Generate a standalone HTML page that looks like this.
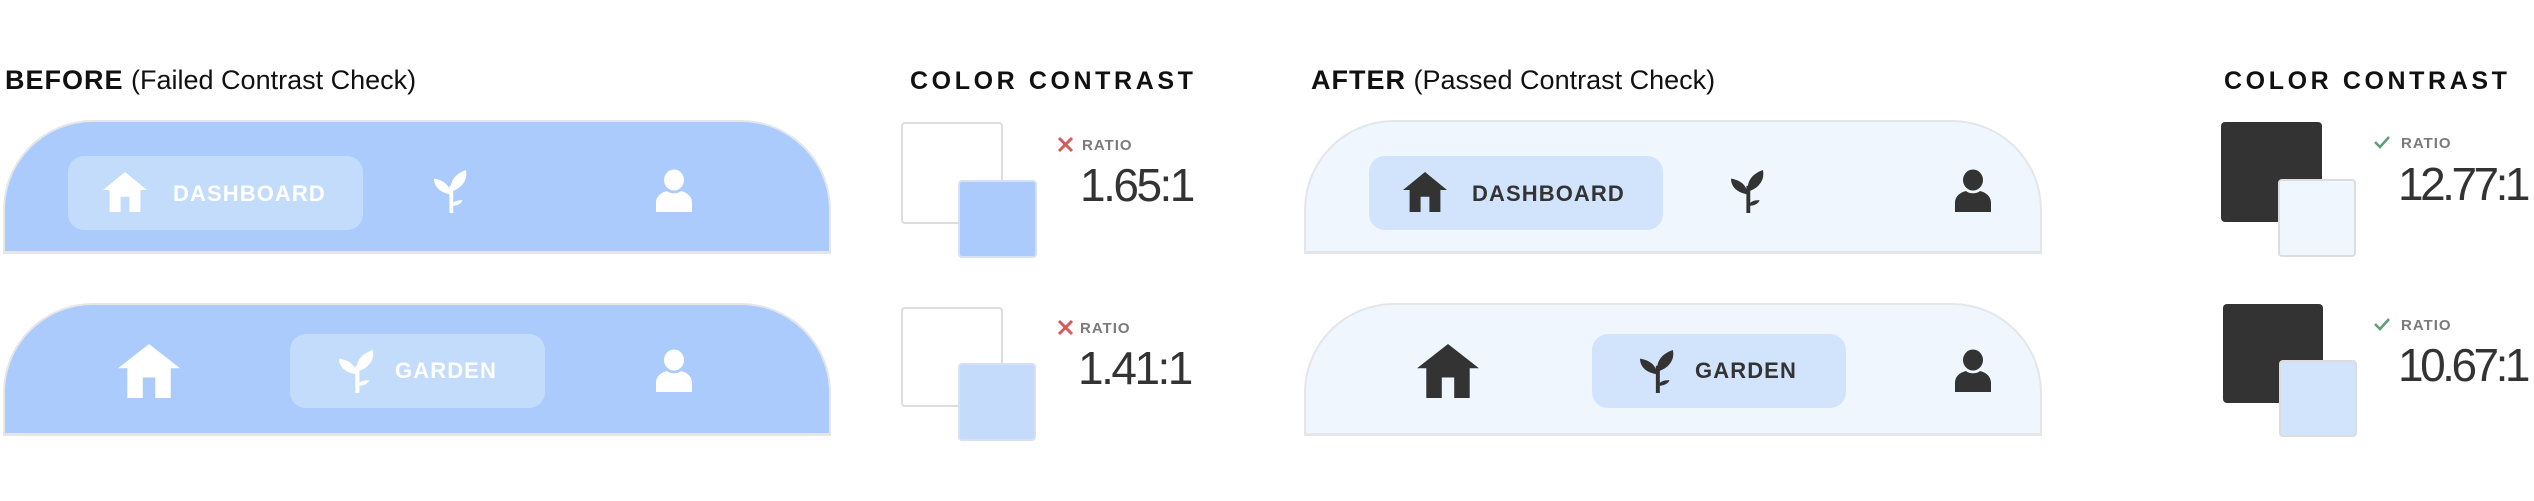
<!DOCTYPE html>
<html><head><meta charset="utf-8">
<style>
html,body{margin:0;padding:0;background:#fff;}
body{width:2534px;height:501px;position:relative;overflow:hidden;font-family:"Liberation Sans",sans-serif;}
.a{position:absolute;}
.title{font-size:27px;line-height:27px;color:#111;white-space:nowrap;}
.title b{font-weight:900;letter-spacing:1px;}
.cc{font-size:25px;font-weight:bold;letter-spacing:3.6px;line-height:25px;color:#111;white-space:nowrap;}
.bar{border:2px solid #e4e6ea;border-bottom-width:3px;border-radius:90px 90px 0 0;box-sizing:border-box;}
.pill{border-radius:16px;}
.nav{font-size:22px;font-weight:bold;letter-spacing:1.1px;line-height:22px;white-space:nowrap;}
.sq{border-radius:4px;box-sizing:border-box;border:2px solid #ddd;}
.ratio{font-size:15px;font-weight:bold;color:#7a7a7a;letter-spacing:1px;line-height:15px;}
.num{font-size:46px;font-weight:300;letter-spacing:-2.5px;line-height:46px;color:#333;white-space:nowrap;}
.num.r{letter-spacing:-3.5px;}
svg{position:absolute;overflow:visible;}
</style></head><body>

<!-- BEFORE -->
<div class="a title" style="left:5px;top:67px;"><b>BEFORE</b> (Failed Contrast Check)</div>

<div class="a bar" style="left:3px;top:120px;width:828px;height:134px;background:#aacbfb;"></div>
<div class="a pill" style="left:68px;top:156px;width:295px;height:74px;background:#c4dcfc;"></div>
<svg style="left:103px;top:172px" width="44" height="40" viewBox="0 0 100 100" preserveAspectRatio="none"><polygon fill="#fff" points="50,0 100,45 85,45 85,100 60,100 60,62 40,62 40,100 15,100 15,45 0,45"/></svg>
<div class="a nav" style="left:173px;top:183px;color:#fff;">DASHBOARD</div>
<svg style="left:434px;top:170px" width="33" height="43" viewBox="0 0 30 60" preserveAspectRatio="none"><g fill="#fff"><rect x="14" y="22" width="3.5" height="38"/><path d="M15.5 34 C6 32 0 24 0 12 C8 14 14 20 15.5 34Z"/><path d="M15.5 30 C14 18 18 6 29 0 C31 14 25 26 15.5 30Z"/><path d="M16 50 C17 44 21 42 26 42 C25 47 21 50 16 50Z"/></g></svg>
<svg style="left:656px;top:170px" width="36" height="42" viewBox="0 0 36 42"><g fill="#fff"><ellipse cx="18" cy="10" rx="10" ry="10.5"/><path d="M0 42 L0 33 C0 25 7 22 11 21 C14 24 22 24 25 21 C29 22 36 25 36 33 L36 42Z"/></g></svg>

<div class="a bar" style="left:3px;top:303px;width:828px;height:133px;background:#aacbfb;"></div>
<svg style="left:118px;top:344px" width="62" height="54" viewBox="0 0 100 100" preserveAspectRatio="none"><polygon fill="#fff" points="50,0 100,45 85,45 85,100 60,100 60,62 40,62 40,100 15,100 15,45 0,45"/></svg>
<div class="a pill" style="left:290px;top:334px;width:255px;height:74px;background:#c4dcfc;"></div>
<svg style="left:339px;top:350px" width="35" height="43" viewBox="0 0 30 60" preserveAspectRatio="none"><g fill="#fff"><rect x="14" y="22" width="3.5" height="38"/><path d="M15.5 34 C6 32 0 24 0 12 C8 14 14 20 15.5 34Z"/><path d="M15.5 30 C14 18 18 6 29 0 C31 14 25 26 15.5 30Z"/><path d="M16 50 C17 44 21 42 26 42 C25 47 21 50 16 50Z"/></g></svg>
<div class="a nav" style="left:395px;top:360px;color:#fff;">GARDEN</div>
<svg style="left:656px;top:350px" width="36" height="42" viewBox="0 0 36 42"><g fill="#fff"><ellipse cx="18" cy="10" rx="10" ry="10.5"/><path d="M0 42 L0 33 C0 25 7 22 11 21 C14 24 22 24 25 21 C29 22 36 25 36 33 L36 42Z"/></g></svg>

<!-- BEFORE contrast -->
<div class="a cc" style="left:910px;top:69px;">COLOR CONTRAST</div>
<div class="a sq" style="left:901px;top:122px;width:102px;height:102px;background:#fff;"></div>
<div class="a sq" style="left:958px;top:180px;width:79px;height:78px;background:#aacbfb;border-color:#d6e2f2;"></div>
<svg style="left:1058px;top:137px" width="15" height="15" viewBox="0 0 15 15"><path d="M1 1L14 14M14 1L1 14" stroke="#d65a5a" stroke-width="3"/></svg>
<div class="a ratio" style="left:1082px;top:138px;">RATIO</div>
<div class="a num" style="left:1080px;top:162px;">1.65:1</div>

<div class="a sq" style="left:901px;top:307px;width:102px;height:100px;background:#fff;"></div>
<div class="a sq" style="left:958px;top:363px;width:78px;height:78px;background:#c4dbfb;border-color:#d6e2f2;"></div>
<svg style="left:1058px;top:320px" width="15" height="15" viewBox="0 0 15 15"><path d="M1 1L14 14M14 1L1 14" stroke="#d65a5a" stroke-width="3"/></svg>
<div class="a ratio" style="left:1080px;top:321px;">RATIO</div>
<div class="a num" style="left:1078px;top:345px;">1.41:1</div>

<!-- AFTER -->
<div class="a title" style="left:1311px;top:67px;"><b>AFTER</b> (Passed Contrast Check)</div>

<div class="a bar" style="left:1304px;top:120px;width:738px;height:134px;background:#eff6fe;"></div>
<div class="a pill" style="left:1369px;top:156px;width:294px;height:74px;background:#d2e4fc;"></div>
<svg style="left:1403px;top:172px" width="44" height="40" viewBox="0 0 100 100" preserveAspectRatio="none"><polygon fill="#333" points="50,0 100,45 85,45 85,100 60,100 60,62 40,62 40,100 15,100 15,45 0,45"/></svg>
<div class="a nav" style="left:1472px;top:183px;color:#333;">DASHBOARD</div>
<svg style="left:1731px;top:170px" width="33" height="43" viewBox="0 0 30 60" preserveAspectRatio="none"><g fill="#333"><rect x="14" y="22" width="3.5" height="38"/><path d="M15.5 34 C6 32 0 24 0 12 C8 14 14 20 15.5 34Z"/><path d="M15.5 30 C14 18 18 6 29 0 C31 14 25 26 15.5 30Z"/><path d="M16 50 C17 44 21 42 26 42 C25 47 21 50 16 50Z"/></g></svg>
<svg style="left:1955px;top:170px" width="36" height="42" viewBox="0 0 36 42"><g fill="#333"><ellipse cx="18" cy="10" rx="10" ry="10.5"/><path d="M0 42 L0 33 C0 25 7 22 11 21 C14 24 22 24 25 21 C29 22 36 25 36 33 L36 42Z"/></g></svg>

<div class="a bar" style="left:1304px;top:303px;width:738px;height:133px;background:#eff6fe;"></div>
<svg style="left:1417px;top:344px" width="62" height="54" viewBox="0 0 100 100" preserveAspectRatio="none"><polygon fill="#333" points="50,0 100,45 85,45 85,100 60,100 60,62 40,62 40,100 15,100 15,45 0,45"/></svg>
<div class="a pill" style="left:1592px;top:334px;width:254px;height:74px;background:#d2e4fc;"></div>
<svg style="left:1640px;top:350px" width="34" height="43" viewBox="0 0 30 60" preserveAspectRatio="none"><g fill="#333"><rect x="14" y="22" width="3.5" height="38"/><path d="M15.5 34 C6 32 0 24 0 12 C8 14 14 20 15.5 34Z"/><path d="M15.5 30 C14 18 18 6 29 0 C31 14 25 26 15.5 30Z"/><path d="M16 50 C17 44 21 42 26 42 C25 47 21 50 16 50Z"/></g></svg>
<div class="a nav" style="left:1695px;top:360px;color:#333;">GARDEN</div>
<svg style="left:1955px;top:350px" width="36" height="42" viewBox="0 0 36 42"><g fill="#333"><ellipse cx="18" cy="10" rx="10" ry="10.5"/><path d="M0 42 L0 33 C0 25 7 22 11 21 C14 24 22 24 25 21 C29 22 36 25 36 33 L36 42Z"/></g></svg>

<!-- AFTER contrast -->
<div class="a cc" style="left:2224px;top:69px;">COLOR CONTRAST</div>
<div class="a sq" style="left:2221px;top:122px;width:101px;height:100px;background:#333;border:none;"></div>
<div class="a sq" style="left:2278px;top:179px;width:78px;height:78px;background:#eff6fe;"></div>
<svg style="left:2374px;top:136px" width="16" height="13" viewBox="0 0 16 13"><path d="M1 6L6 11L15 1" fill="none" stroke="#5e9e7a" stroke-width="2.5"/></svg>
<div class="a ratio" style="left:2401px;top:136px;">RATIO</div>
<div class="a num r" style="left:2398px;top:161px;">12.77:1</div>

<div class="a sq" style="left:2223px;top:304px;width:100px;height:99px;background:#333;border:none;"></div>
<div class="a sq" style="left:2279px;top:360px;width:78px;height:77px;background:#d2e4fc;"></div>
<svg style="left:2374px;top:318px" width="16" height="13" viewBox="0 0 16 13"><path d="M1 6L6 11L15 1" fill="none" stroke="#5e9e7a" stroke-width="2.5"/></svg>
<div class="a ratio" style="left:2401px;top:318px;">RATIO</div>
<div class="a num r" style="left:2398px;top:342px;">10.67:1</div>

</body></html>
